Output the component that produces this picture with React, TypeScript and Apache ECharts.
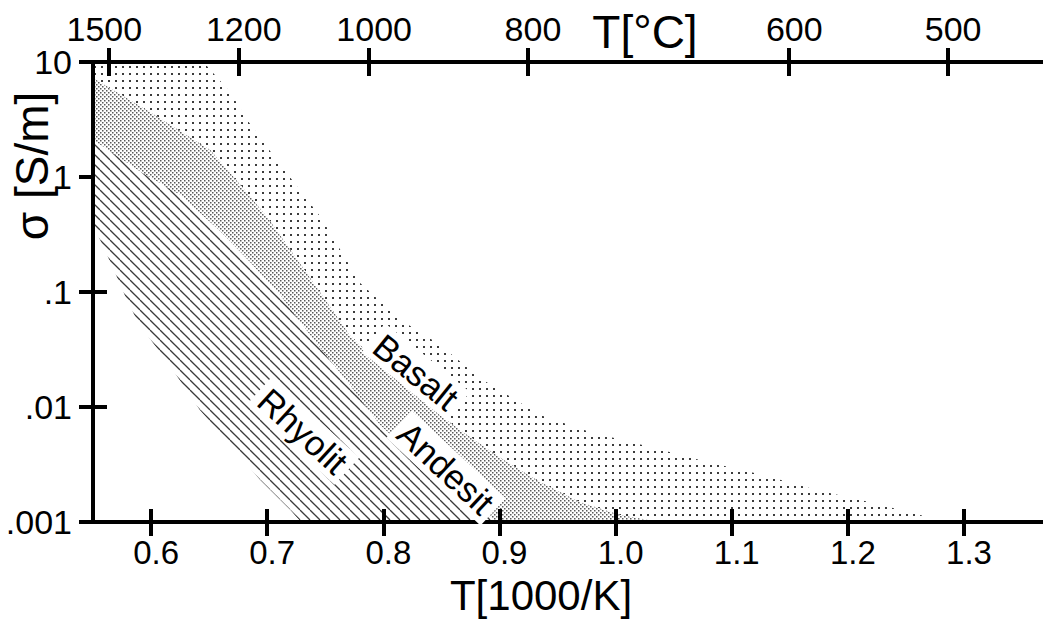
import React, { useEffect, useRef } from "react";
import * as echarts from "echarts";

// Axis ranges: reciprocal temperature (1000/K) and conductivity (S/m, log scale)
const X_MIN = 0.55;
const X_MAX = 1.368;
const Y_MIN = 0.001;
const Y_MAX = 10;

const xTicks = [0.6, 0.7, 0.8, 0.9, 1.0, 1.1, 1.2, 1.3];
const yTicks = [0.001, 0.01, 0.1, 1, 10];
const yTickLabels = [".001", ".01", ".1", "1", "10"];

// Celsius scale along the top edge, placed on the 1000/K axis
const celsiusLabels = ["1500", "1200", "1000", "800", "600", "500"];
const celsiusPos = [0.5632, 0.6755, 0.7878, 0.9245, 1.1495, 1.2863];

// Band boundaries as [1000/K, sigma S/m]
const basaltUpper: [number, number][] = [
  [0.55, 10], [0.645, 10], [0.668, 5.48], [0.684, 3.01], [0.705, 1.55],
  [0.728, 0.771], [0.746, 0.449], [0.763, 0.232], [0.78, 0.12], [0.815, 0.0571],
  [0.849, 0.0346], [0.883, 0.0179], [0.935, 0.00852], [0.978, 0.00606],
  [1.03, 0.00449], [1.079, 0.00333], [1.127, 0.00256], [1.173, 0.0019],
  [1.222, 0.00146], [1.273, 0.00108], [1.284, 0.001],
];
const andesiteUpper: [number, number][] = [
  [0.55, 7.26], [0.599, 3.67], [0.651, 1.72], [0.677, 0.852], [0.7, 0.449],
  [0.72, 0.232], [0.74, 0.12], [0.771, 0.0423], [0.797, 0.0232], [0.832, 0.0115],
  [0.866, 0.00631], [0.901, 0.0036], [0.935, 0.00223], [0.969, 0.00149],
  [1.004, 0.00115], [1.038, 0.001],
];
const rhyoliteUpper: [number, number][] = [
  [0.55, 2.1], [0.591, 1.105], [0.625, 0.698], [0.66, 0.333], [0.685, 0.182],
  [0.711, 0.0942], [0.74, 0.0383], [0.771, 0.0155], [0.797, 0.00697],
  [0.832, 0.00333], [0.866, 0.00172], [0.898, 0.001],
];
const rhyoliteLower: [number, number][] = [
  [0.55, 0.383], [0.559, 0.246], [0.568, 0.155], [0.578, 0.0905], [0.589, 0.0537],
  [0.617, 0.0223], [0.642, 0.00942], [0.668, 0.00467], [0.694, 0.00232],
  [0.72, 0.00127], [0.729, 0.001],
];

const FONT = '"Liberation Sans", Arial, Helvetica, sans-serif';

function makeTile(w: number, h: number, paint: (ctx: CanvasRenderingContext2D) => void) {
  const c = document.createElement("canvas");
  c.width = w;
  c.height = h;
  const ctx = c.getContext("2d") as CanvasRenderingContext2D;
  ctx.fillStyle = "#ffffff";
  ctx.fillRect(0, 0, w, h);
  paint(ctx);
  return c;
}

function band(upper: [number, number][], lower: [number, number][]) {
  return upper.concat(lower.slice().reverse());
}

export default function App() {
  const ref = useRef<HTMLDivElement>(null);

  useEffect(() => {
    if (!ref.current) return;
    const chart = echarts.init(ref.current, undefined, { renderer: "svg" });

    const sparseDots = makeTile(7, 7, (ctx) => {
      ctx.fillStyle = "#3c3c3c";
      ctx.fillRect(3, 3, 2, 2);
    });
    const denseDots = makeTile(4, 4, (ctx) => {
      ctx.fillStyle = "#5a5a5a";
      ctx.fillRect(0, 0, 1.5, 1.5);
      ctx.fillRect(2, 2, 1.5, 1.5);
    });
    const hatch = makeTile(10, 10, (ctx) => {
      ctx.strokeStyle = "#3a3a3a";
      ctx.lineWidth = 1.3;
      for (const off of [-10, 0, 10]) {
        ctx.beginPath();
        ctx.moveTo(off, 0);
        ctx.lineTo(off + 10, 10);
        ctx.stroke();
      }
    });

    const regions = [
      { name: "Basalt", pts: band(basaltUpper, andesiteUpper), fill: sparseDots },
      { name: "Andesit", pts: band(andesiteUpper, rhyoliteUpper), fill: denseDots },
      { name: "Rhyolit", pts: band(rhyoliteUpper, rhyoliteLower), fill: hatch },
    ];

    const lineStyle = { color: "#000", width: 4 };
    const tickStyle = { color: "#000", width: 4 };
    const labelBase = { color: "#000", fontFamily: FONT, fontSize: 34, lineHeight: 30 };

    const yLabel = (v: number) => {
      const i = yTicks.findIndex((t) => Math.abs(Math.log10(t) - Math.log10(v)) < 1e-6);
      return i >= 0 ? yTickLabels[i] : "";
    };
    const cLabel = (v: number) => {
      const i = celsiusPos.findIndex((t) => Math.abs(t - v) < 1e-6);
      if (i < 0) return "";
      return i === 0 ? `{lead|${celsiusLabels[i]}}` : celsiusLabels[i];
    };

    chart.setOption({
      animation: false,
      backgroundColor: "#fff",
      grid: { left: 93, right: 0, top: 62, bottom: 97, containLabel: false },
      xAxis: [
        {
          type: "value", position: "bottom", min: X_MIN, max: X_MAX, z: 10,
          axisLine: { show: true, lineStyle },
          axisTick: { show: true, inside: false, length: 14, lineStyle: tickStyle, customValues: xTicks },
          axisLabel: {
            ...labelBase, fontSize: 33, margin: 15, padding: [0, 0, 0, 10], customValues: xTicks,
            formatter: (v: number) => v.toFixed(1),
          },
          splitLine: { show: false },
        },
        {
          type: "value", position: "bottom", min: X_MIN, max: X_MAX, z: 10,
          axisLine: { show: false },
          axisTick: { show: true, inside: true, length: 13, lineStyle: tickStyle, customValues: xTicks },
          axisLabel: { show: false },
          splitLine: { show: false },
        },
        {
          type: "value", position: "top", min: X_MIN, max: X_MAX, z: 10,
          axisLine: { show: true, lineStyle },
          axisTick: { show: true, inside: false, length: 14, lineStyle: tickStyle, customValues: celsiusPos },
          axisLabel: {
            ...labelBase, margin: 18, padding: [0, 0, 0, 10], customValues: celsiusPos,
            formatter: cLabel,
            rich: {
              lead: { fontFamily: FONT, fontSize: 34, lineHeight: 30, color: "#000", padding: [0, 18, 0, 0] },
            },
          },
          splitLine: { show: false },
        },
        {
          type: "value", position: "top", min: X_MIN, max: X_MAX, z: 10,
          axisLine: { show: false },
          axisTick: { show: true, inside: true, length: 14, lineStyle: tickStyle, customValues: celsiusPos },
          axisLabel: { show: false },
          splitLine: { show: false },
        },
      ],
      yAxis: [
        {
          type: "log", logBase: 10, position: "left", min: Y_MIN, max: Y_MAX, z: 10,
          axisLine: { show: true, lineStyle },
          axisTick: { show: true, inside: false, length: 14, lineStyle: tickStyle },
          axisLabel: { ...labelBase, margin: 21, formatter: yLabel },
          splitLine: { show: false },
          minorTick: { show: false },
        },
        {
          type: "log", logBase: 10, position: "left", min: Y_MIN, max: Y_MAX, z: 0,
          axisLine: { show: false },
          axisTick: { show: true, inside: true, length: 14, lineStyle: tickStyle },
          axisLabel: { show: false },
          splitLine: { show: false },
        },
      ],
      series: regions.map((r) => ({
        type: "custom",
        name: r.name,
        xAxisIndex: 0,
        yAxisIndex: 0,
        z: 2,
        silent: true,
        dimensions: ["x", "y"],
        encode: { x: 0, y: 1 },
        data: r.pts,
        renderItem: (params: any, api: any) => {
          if (params.dataIndex !== 0) return null;
          const points = r.pts.map((p) => api.coord(p));
          return {
            type: "polygon",
            shape: { points },
            style: { fill: { image: r.fill, repeat: "repeat" }, stroke: null },
          };
        },
      })),
      graphic: [
        {
          type: "text", x: 645, y: 32, z: 20,
          style: { text: "T[°C]", font: `46px ${FONT}`, fill: "#000", align: "center", verticalAlign: "middle", lineHeight: 44 },
        },
        {
          type: "text", x: 541, y: 595, z: 20,
          style: { text: "T[1000/K]", font: `42px ${FONT}`, fill: "#000", align: "center", verticalAlign: "middle", lineHeight: 38 },
        },
        {
          type: "text", x: 32, y: 166, z: 20, rotation: Math.PI / 2,
          style: { text: "σ [S/m]", font: `46px ${FONT}`, fill: "#000", align: "center", verticalAlign: "middle" },
        },
        {
          type: "text", x: 416, y: 372, z: 20, rotation: -0.68,
          style: {
            text: "Basalt", font: `35px ${FONT}`, fill: "#000", align: "center", verticalAlign: "middle",
            backgroundColor: "#fff", padding: [1, 6, 1, 6],
          },
        },
        {
          type: "text", x: 446, y: 468, z: 20, rotation: -0.75,
          style: {
            text: "Andesit", font: `35px ${FONT}`, fill: "#000", align: "center", verticalAlign: "middle",
            backgroundColor: "#fff", padding: [1, 6, 1, 6],
          },
        },
        {
          type: "text", x: 303, y: 431, z: 20, rotation: -0.74,
          style: {
            text: "Rhyolit", font: `35px ${FONT}`, fill: "#000", align: "center", verticalAlign: "middle",
            backgroundColor: "#fff", padding: [1, 6, 1, 6],
          },
        },
      ],
    });

    return () => chart.dispose();
  }, []);

  return (
    <div
      ref={ref}
      style={{ position: "fixed", left: 0, top: 0, width: 1043, height: 619, background: "#fff" }}
    />
  );
}
